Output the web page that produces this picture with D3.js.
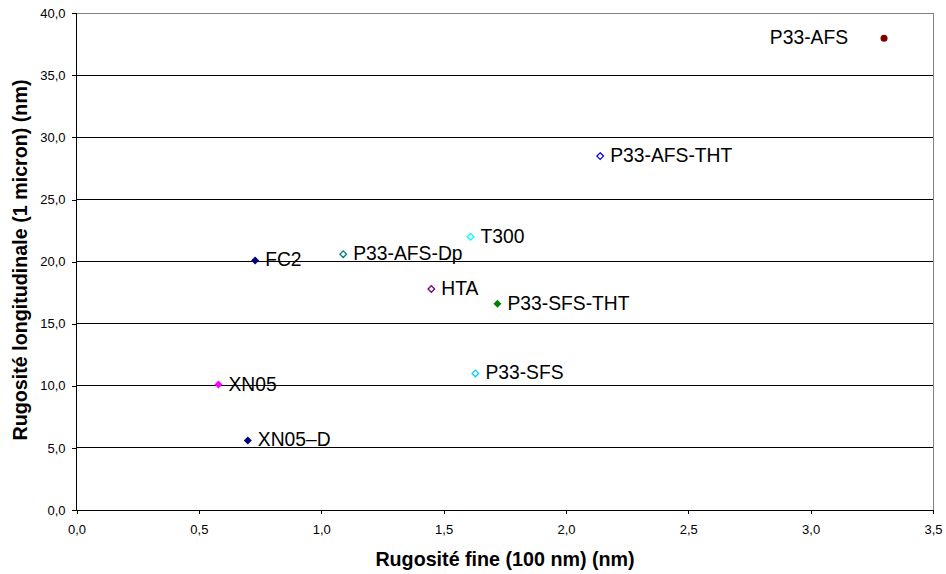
<!DOCTYPE html>
<html>
<head>
<meta charset="utf-8">
<script src="https://d3js.org/d3.v7.min.js"></script>
<style>
body { margin: 0; background: #fff; }
text { font-family: "Liberation Sans", Arial, sans-serif; }
</style>
</head>
<body>
<svg width="946" height="574"></svg>
<script>
// samples
var names   = ["P33-AFS", "P33-AFS-THT", "T300", "FC2", "P33-AFS-Dp", "HTA", "P33-SFS-THT", "P33-SFS", "XN05", "XN05\u2013D"];
var fine    = [3.30, 2.14, 1.61, 0.73, 1.09, 1.45, 1.72, 1.63, 0.58, 0.70];
var longi   = [38.0, 28.5, 22.0, 20.1, 20.6, 17.8, 16.6, 11.0, 10.1, 5.6];
var colors  = ["#800000", "#0000ff", "#00ffff", "#000080", "#008080", "#800080", "#008000", "#00ccff", "#ff00ff", "#000080"];
var shapes  = ["circle", "open", "open", "filled", "open", "open", "filled", "open", "filled", "filled"];
var xTicks  = [0, 0.5, 1, 1.5, 2, 2.5, 3, 3.5];
var yTicks  = [0, 5, 10, 15, 20, 25, 30, 35, 40];

var svg = d3.select("svg");
var plotL = 76.5, plotR = 933, plotT = 13.3, plotB = 510;

var x = d3.scaleLinear().domain([0, 3.5]).range([plotL, plotR]);
var y = d3.scaleLinear().domain([0, 40]).range([plotB, plotT]);
var fmt = function(v) { return d3.format(".1f")(v).replace(".", ","); };

// gridlines
svg.append("g").selectAll("line")
  .data(yTicks.slice(1))
  .enter().append("line")
    .attr("x1", plotL).attr("x2", plotR)
    .attr("y1", function(d) { return y(d); })
    .attr("y2", function(d) { return y(d); })
    .attr("stroke", function(d) { return d == 40 ? "#808080" : "#000"; })
    .attr("stroke-width", 1)
    .attr("shape-rendering", "crispEdges");

// right border
svg.append("line")
  .attr("x1", plotR).attr("x2", plotR).attr("y1", plotT).attr("y2", plotB)
  .attr("stroke", "#808080").attr("shape-rendering", "crispEdges");

// axes
var xAxis = d3.axisBottom(x).tickValues(xTicks).tickFormat(fmt).tickSize(4).tickPadding(11);
var yAxis = d3.axisLeft(y).tickValues(yTicks).tickFormat(fmt).tickSize(5).tickPadding(6);

var gx = svg.append("g").attr("transform", "translate(0," + plotB + ")").call(xAxis);
var gy = svg.append("g").attr("transform", "translate(" + plotL + ",0)").call(yAxis);
[gx, gy].forEach(function(g) {
  g.select(".domain").attr("stroke", "#000");
  g.selectAll(".tick line").attr("stroke", "#000");
  g.selectAll("text").attr("font-size", 13).attr("fill", "#000")
    .attr("font-family", "Liberation Sans, Arial, sans-serif");
  g.selectAll("path, line").attr("shape-rendering", "crispEdges");
});
gx.select(".domain").attr("d", "M" + plotL + ",0H" + plotR);
gy.select(".domain").attr("d", "M0," + plotB + "V" + plotT);

// axis titles
svg.append("text")
  .attr("x", 505).attr("y", 566)
  .attr("text-anchor", "middle").attr("font-size", 19.7).attr("font-weight", "bold")
  .text("Rugosité fine (100 nm) (nm)");
svg.append("text")
  .attr("transform", "translate(27,260) rotate(-90)")
  .attr("text-anchor", "middle").attr("font-size", 19.7).attr("font-weight", "bold")
  .text("Rugosité longitudinale (1 micron) (nm)");

// points
var pts = svg.append("g").selectAll("g")
  .data(names)
  .enter().append("g")
    .attr("transform", function(d, i) { return "translate(" + x(fine[i]) + "," + y(longi[i]) + ")"; });

pts.each(function(d, i) {
  var g = d3.select(this);
  if (shapes[i] == "circle") {
    g.append("circle").attr("r", 3.5).attr("fill", colors[i]);
  } else if (shapes[i] == "filled") {
    g.append("path").attr("d", "M0,-4L4,0L0,4L-4,0Z").attr("fill", colors[i]);
  } else {
    g.append("path").attr("d", "M0,-3.3L3.3,0L0,3.3L-3.3,0Z")
      .attr("fill", "#fff").attr("stroke", colors[i]).attr("stroke-width", 1.3);
  }
  var lbl = g.append("text").attr("font-size", 19.3).attr("fill", "#000").text(d);
  if (i == 0) lbl.attr("x", -36).attr("y", 6).attr("text-anchor", "end");
  else lbl.attr("x", 10).attr("y", 6);
});
</script>
</body>
</html>
